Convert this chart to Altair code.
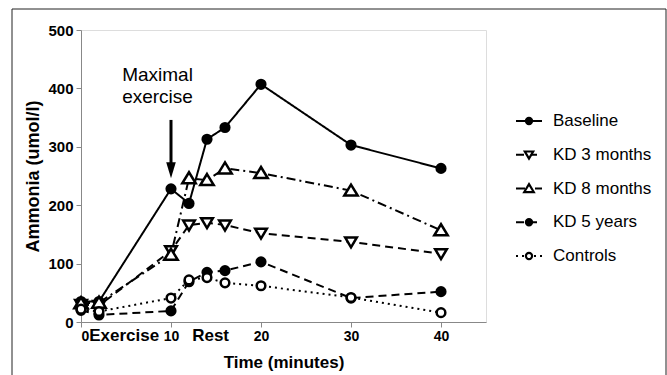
import altair as alt
import pandas as pd

# ---- data ----
time = [0, 2, 10, 12, 14, 16, 20, 30, 40]
series_names = ["Baseline", "KD 3 months", "KD 8 months", "KD 5 years", "Controls"]
baseline = [35, 35, 228, 203, 313, 333, 407, 303, 263]
kd_3_months = [30, 28, 122, 166, 170, 166, 152, 137, 117]
kd_8_months = [32, 33, 115, 246, 243, 263, 255, 225, 157]
kd_5_years = [20, 12, 19, 69, 85, 88, 103, 41, 52]
controls = [22, 18, 41, 72, 76, 67, 62, 42, 16]

x_ticks = [0, 10, 20, 30, 40]
y_ticks = [0, 100, 200, 300, 400, 500]
phase_labels = ["Exercise", "Rest"]
phase_pos = [4.8, 14.4]
annot_lines = ["Maximal", "exercise"]
annot_y = [423, 385]
annot_x = 8.5
arrow_t = 10
arrow_top = 346
arrow_head = 260

TRI_UP = "M0,-1.4L1.55,1.15L-1.55,1.15Z"
TRI_DOWN = "M-1.35,-1.05L1.35,-1.05L0,1.25Z"
shapes = ["circle", TRI_DOWN, TRI_UP, "circle", "circle"]
fills = ["black", "white", "white", "black", "white"]
dashes = [[1, 0], [8, 5], [9, 4, 2, 4], [8, 5], [2, 4]]
legend_dashes = [[1, 0], [5, 8, 3, 10], [3, 8, 3, 10], [5, 8, 3, 10], [2, 20]]

values = [baseline, kd_3_months, kd_8_months, kd_5_years, controls]
rows = []
for name, vals in zip(series_names, values):
    for t, v in zip(time, vals):
        rows.append({"series": name, "line_style": name, "time": t, "value": v})
df = pd.DataFrame(rows)
legend_df = pd.DataFrame({"series": series_names, "legend_style": series_names})

FONT = "Liberation Sans"
W, H = 405, 292

xscale = alt.Scale(domain=[0, 45], nice=False)
yscale = alt.Scale(domain=[0, 500], nice=False)
shape_scale = alt.Scale(domain=series_names, range=shapes)
fill_scale = alt.Scale(domain=series_names, range=fills)
dash_scale = alt.Scale(domain=series_names, range=dashes)
legend_dash_scale = alt.Scale(domain=series_names, range=legend_dashes)

x_enc = alt.X("time:Q", scale=xscale,
              axis=alt.Axis(values=x_ticks, title="Time (minutes)", grid=False,
                            labelFontWeight="bold", labelFontSize=14,
                            titleFontSize=17, titleFontWeight="bold",
                            titlePadding=11, labelPadding=2, tickSize=5))
y_enc = alt.Y("value:Q", scale=yscale,
              axis=alt.Axis(values=y_ticks, title="Ammonia (umol/l)", grid=False,
                            labelFontWeight="bold", labelFontSize=15,
                            titleFontSize=18, titleFontWeight="bold",
                            titlePadding=5, labelPadding=3, tickSize=5))

lines = alt.Chart(df).mark_line(color="black", strokeWidth=2).encode(
    x=x_enc, y=y_enc,
    strokeDash=alt.StrokeDash("line_style:N", scale=dash_scale, legend=None),
    detail="line_style:N",
)

points = alt.Chart(df).mark_point(filled=True, stroke="black", strokeWidth=2.5, opacity=1, size=75).encode(
    x="time:Q", y="value:Q",
    shape=alt.Shape("series:N", scale=shape_scale, legend=None),
    color=alt.Color("series:N", scale=fill_scale, legend=None),
)

phase_df = pd.DataFrame({"t": phase_pos, "label": phase_labels})
phase_text = alt.Chart(phase_df).mark_text(fontSize=17, fontWeight="bold", font=FONT,
                                           baseline="middle", align="center", color="black").encode(
    x="t:Q", y=alt.value(306), text="label:N")

annot_df = pd.DataFrame({"t": [annot_x] * len(annot_lines), "v": annot_y, "label": annot_lines})
annot = alt.Chart(annot_df).mark_text(fontSize=19, font=FONT, baseline="middle",
                                      align="center", color="black").encode(
    x="t:Q", y="v:Q", text="label:N")

arrow_df = pd.DataFrame({"t": [arrow_t], "top": [arrow_top], "head": [arrow_head]})
shaft = alt.Chart(arrow_df).mark_rule(color="black", strokeWidth=3).encode(
    x="t:Q", y="top:Q", y2="head:Q")
head = alt.Chart(arrow_df).mark_point(shape="M-0.6,-1L0.6,-1L0,1Z", filled=True,
                                      color="black", size=256, opacity=1).encode(
    x="t:Q", y="head:Q")

frame = alt.Chart(pd.DataFrame({"a": [0]})).mark_rect(fill=None, stroke="#222", strokeWidth=1).encode(
    x=alt.value(-69), x2=alt.value(585), y=alt.value(-21), y2=alt.value(360))

main = alt.layer(frame, lines, points, phase_text, annot, shaft, head)

# ---- legend (built from the same scales) ----
leg_y = alt.Y("series:N", scale=alt.Scale(type="point", domain=series_names, range=[91, 226], padding=0),
              axis=None)
leg_line = alt.Chart(legend_df).mark_rule(color="black", strokeWidth=2).encode(
    x=alt.value(435), x2=alt.value(461), y=leg_y,
    strokeDash=alt.StrokeDash("legend_style:N", scale=legend_dash_scale, legend=None))
leg_sym = alt.Chart(legend_df).mark_point(filled=True, stroke="black", strokeWidth=2.2,
                                          opacity=1, size=38).encode(
    x=alt.value(448), y=leg_y,
    shape=alt.Shape("series:N", scale=shape_scale, legend=None),
    color=alt.Color("series:N", scale=fill_scale, legend=None))
leg_text = alt.Chart(legend_df).mark_text(align="left", baseline="middle", fontSize=17,
                                          font=FONT, color="black").encode(
    x=alt.value(472), y=leg_y, text="series:N")
legend_layer = alt.layer(leg_line, leg_sym, leg_text)

chart = alt.layer(main, legend_layer).resolve_scale(y="independent").properties(
    width=W, height=H,
    autosize=alt.AutoSizeParams(type="none"),
    padding={"left": 81, "top": 30, "right": 181, "bottom": 53},
).configure_view(stroke=None).configure_axis(
    domainColor="black", domainWidth=2, tickColor="black", tickWidth=2,
    labelColor="black", titleColor="black", labelFont=FONT, titleFont=FONT,
).configure(background="white")

chart.save("out.html", embed_options={"renderer": "svg", "actions": False})
